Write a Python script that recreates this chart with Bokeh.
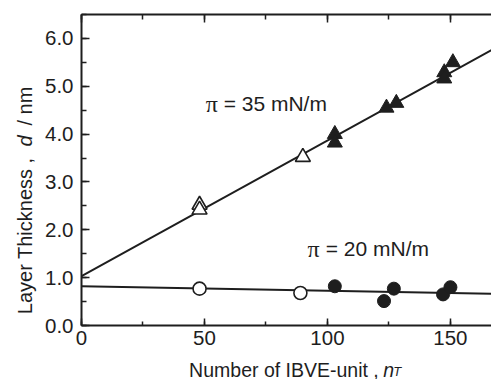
from math import pi
from bokeh.plotting import figure
from bokeh.layouts import row, column
from bokeh.models import (Label, LinearAxis, SingleIntervalTicker, NumeralTickFormatter,
                          Range1d)
from bokeh.embed import file_html
from bokeh.resources import INLINE

# ---- data ----
open_tri_x = [48, 48, 90]
open_tri_y = [2.52, 2.42, 3.52]
filled_tri_x = [103, 103, 124, 128, 147.5, 147.5, 151]
filled_tri_y = [4.00, 3.82, 4.55, 4.65, 5.29, 5.16, 5.50]
open_circ_x = [48, 89]
open_circ_y = [0.77, 0.68]
filled_circ_x = [103, 123, 127, 147, 150]
filled_circ_y = [0.82, 0.51, 0.77, 0.65, 0.80]
fit35_x = [0, 170]
fit35_y = [1.03, 5.85]
fit20_x = [0, 170]
fit20_y = [0.82, 0.66]

INK = "#1e1e1e"
FONT = "Liberation Sans"

# ---------------- main plot ----------------
p = figure(width=451, height=356, output_backend="svg", toolbar_location=None,
           x_range=Range1d(0, 166.7), y_range=Range1d(0, 6.5),
           min_border_left=41, min_border_right=0, min_border_top=14, min_border_bottom=31,
           background_fill_color="white", border_fill_color="white")
p.outline_line_color = None
p.xgrid.visible = False
p.ygrid.visible = False

xa = p.xaxis[0]
xa.ticker = SingleIntervalTicker(interval=50, num_minor_ticks=2)
xa.axis_line_width = 2
xa.axis_line_color = INK
xa.major_tick_in = 7
xa.major_tick_out = 0
xa.minor_tick_in = 4
xa.minor_tick_out = 0
xa.major_tick_line_width = 1.5
xa.minor_tick_line_width = 1.5
xa.major_tick_line_color = INK
xa.minor_tick_line_color = INK
xa.major_label_text_font = FONT
xa.major_label_text_font_size = "20.5px"
xa.major_label_text_color = INK
xa.major_label_standoff = 5

ya = p.yaxis[0]
ya.ticker = SingleIntervalTicker(interval=1, num_minor_ticks=2)
ya.formatter = NumeralTickFormatter(format="0.0")
ya.axis_line_width = 2
ya.axis_line_color = INK
ya.major_tick_in = 8
ya.major_tick_out = 0
ya.minor_tick_in = 5
ya.minor_tick_out = 0
ya.major_tick_line_width = 1.5
ya.minor_tick_line_width = 1.5
ya.major_tick_line_color = INK
ya.minor_tick_line_color = INK
ya.major_label_text_font = FONT
ya.major_label_text_font_size = "20.5px"
ya.major_label_text_color = INK
ya.major_label_standoff = 8

top = LinearAxis(ticker=SingleIntervalTicker(interval=50, num_minor_ticks=2),
                 major_label_text_font_size="0px", major_label_text_color=None,
                 major_label_standoff=0,
                 major_tick_in=8, major_tick_out=0, minor_tick_in=5, minor_tick_out=0,
                 axis_line_width=2, axis_line_color=INK,
                 major_tick_line_width=1.5, minor_tick_line_width=1.5,
                 major_tick_line_color=INK, minor_tick_line_color=INK)
p.add_layout(top, "above")

# fitted lines
p.line(fit35_x, fit35_y, line_color=INK, line_width=2)
p.line(fit20_x, fit20_y, line_color=INK, line_width=2)

# markers
p.scatter(open_tri_x, open_tri_y, marker="triangle", size=15, fill_color="white",
          line_color=INK, line_width=1.6)
p.scatter(filled_tri_x, filled_tri_y, marker="triangle", size=15, fill_color=INK,
          line_color=INK, line_width=1)
p.scatter(open_circ_x, open_circ_y, marker="circle", size=13, fill_color="white",
          line_color=INK, line_width=1.6)
p.scatter(filled_circ_x, filled_circ_y, marker="circle", size=13, fill_color=INK,
          line_color=INK, line_width=1)


def lab(fig, x, y, text, font=FONT, size="20px", style="normal", angle=0,
        align="left", baseline="alphabetic"):
    fig.add_layout(Label(x=x, y=y, text=text, text_font=font, text_font_size=size,
                         text_font_style=style, angle=angle, text_align=align,
                         text_baseline=baseline, text_color=INK))


lab(p, 50.5, 4.63, "\u03c0", font="Liberation Serif", size="24px")
lab(p, 57.8, 4.63, "= 35 mN/m", size="21px")
lab(p, 91.9, 1.60, "\u03c0", font="Liberation Serif", size="24px")
lab(p, 99.3, 1.60, "= 20 mN/m", size="21px")


def blank(w, h, x0, x1, y0, y1):
    f = figure(width=w, height=h, output_backend="svg", toolbar_location=None,
               x_range=Range1d(x0, x1), y_range=Range1d(y0, y1),
               x_axis_location=None, y_axis_location=None,
               min_border=0, background_fill_color="white", border_fill_color="white")
    f.outline_line_color = None
    f.grid.visible = False
    return f


# ---------------- y-axis title strip (page pixels, y measured up from bottom) ----------------
yl = blank(40, 379, 0, 40, 0, 379)
lab(yl, 24, 222, "Layer Thickness ,", angle=pi / 2, align="right", baseline="middle")
lab(yl, 24, 233, "d", angle=pi / 2, style="italic", baseline="middle")
lab(yl, 24, 254, "/ nm", angle=pi / 2, baseline="middle")

# ---------------- x-axis title strip ----------------
xl = blank(451, 23, 40, 491, 0, 23)
lab(xl, 367, 10, "Number of IBVE-unit ,", align="right", size="19.5px")
lab(xl, 372, 10, "n", style="italic", size="19.5px")
lab(xl, 383, 8.5, "T", style="italic", size="13px")

layout = row(yl, column(p, xl))
open("out.html", "w").write(file_html(layout, INLINE))
